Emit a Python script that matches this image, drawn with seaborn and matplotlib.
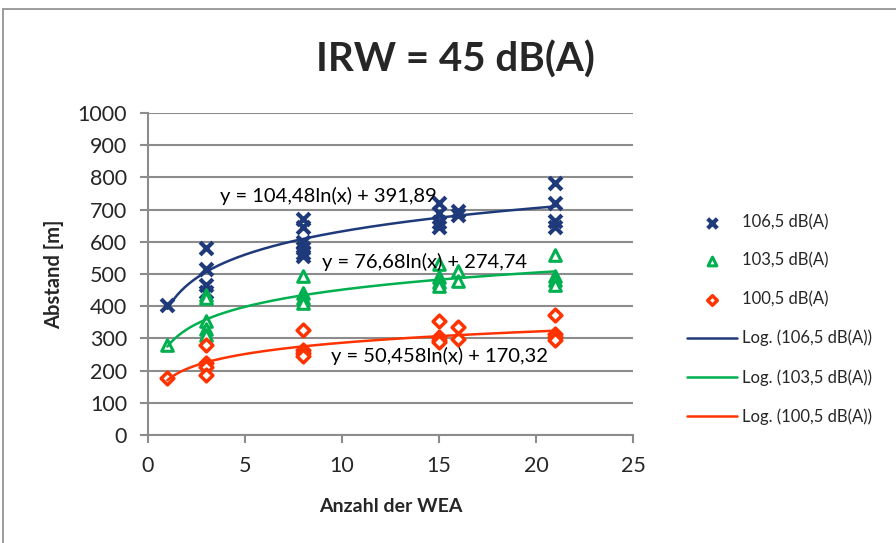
import numpy as np
import pandas as pd
import matplotlib
matplotlib.use("Agg")
import matplotlib.pyplot as plt
from matplotlib.patches import Rectangle
import seaborn as sns

# --- data ---
x_106 = [1, 3, 3, 3, 3, 8, 8, 8, 8, 8, 8, 15, 15, 15, 15, 16, 16, 21, 21, 21, 21]
y_106 = [405, 580, 515, 465, 445, 670, 645, 600, 580, 565, 555, 720, 690, 660, 645, 695, 682, 783, 720, 665, 645]

x_103 = [1, 3, 3, 3, 3, 3, 8, 8, 8, 8, 15, 15, 15, 15, 16, 16, 21, 21, 21, 21]
y_103 = [280, 435, 425, 355, 330, 310, 495, 440, 425, 410, 530, 490, 475, 462, 508, 478, 560, 495, 480, 465]

x_100 = [1, 3, 3, 3, 3, 8, 8, 8, 8, 15, 15, 15, 15, 16, 16, 21, 21, 21, 21]
y_100 = [178, 280, 225, 210, 187, 325, 265, 255, 245, 355, 305, 295, 288, 335, 298, 372, 315, 305, 295]

series_labels = ["106,5 dB(A)", "103,5 dB(A)", "100,5 dB(A)"]
trend_a = [104.48, 76.68, 50.458]
trend_b = [391.89, 274.74, 170.32]
trend_text = ["y = 104,48ln(x) + 391,89", "y = 76,68ln(x) + 274,74", "y = 50,458ln(x) + 170,32"]
text_pos = [(3.7, 741), (8.95, 538), (9.45, 245)]

colors = ["#1F3A7A", "#00B050", "#FF3300"]

sns.set_style("white")
plt.rcParams["font.family"] = ["Lato", "DejaVu Sans"]

fig = plt.figure(figsize=(8.96, 5.43), dpi=100)
ax = fig.add_axes([148 / 896, 1 - 435 / 543, 485 / 896, 322 / 543])

df106 = pd.DataFrame({"x": x_106, "y": y_106})
df103 = pd.DataFrame({"x": x_103, "y": y_103})
df100 = pd.DataFrame({"x": x_100, "y": y_100})

sns.scatterplot(data=df106, x="x", y="y", ax=ax, marker="x", s=85, linewidth=3.0,
                color=colors[0], label=series_labels[0], zorder=3)
sns.scatterplot(data=df103, x="x", y="y", ax=ax, marker="^", s=70, linewidth=2.2,
                color=colors[1], facecolor="white", edgecolor=colors[1],
                label=series_labels[1], zorder=3)
sns.scatterplot(data=df100, x="x", y="y", ax=ax, marker="D", s=42, linewidth=2.5,
                color=colors[2], facecolor="white", edgecolor=colors[2],
                label=series_labels[2], zorder=3)

# logarithmic trendlines from the equations shown in the chart
xs = np.linspace(1, 21, 200)
for a, b, c, lab in zip(trend_a, trend_b, colors, series_labels):
    sns.lineplot(x=xs, y=a * np.log(xs) + b, ax=ax, color=c, linewidth=1.8,
                 label="Log. (" + lab + ")", zorder=4)

for t, (tx, ty) in zip(trend_text, text_pos):
    ax.text(tx, ty, t, fontsize=14.5, ha="left", va="center", color="black", zorder=5)

ax.set_xlim(0, 25)
ax.set_ylim(0, 1000)
ax.set_xticks(range(0, 26, 5))
ax.set_yticks(range(0, 1001, 100))
ax.grid(axis="y", color="#8C8C8C", linewidth=1.5)
ax.grid(axis="x", visible=False)
for s in ["top", "right"]:
    ax.spines[s].set_visible(False)
for s in ["left", "bottom"]:
    ax.spines[s].set_color("#8C8C8C")
    ax.spines[s].set_linewidth(1.5)
ax.tick_params(axis="both", which="major", labelsize=15.5, length=6, width=1.5,
               color="#8C8C8C", direction="out", pad=9, left=True, bottom=True)
ax.set_xlabel("Anzahl der WEA", fontsize=14, fontweight="bold", labelpad=16)
ax.set_ylabel("Abstand [m]", fontsize=14.5, fontweight="bold", labelpad=10)

fig.text(455 / 896, 1 - 60 / 543, "IRW = 45 dB(A)", fontsize=29, fontweight="bold",
         ha="center", va="center")

handles, labels = ax.get_legend_handles_labels()
ax.get_legend().remove()
fig.legend(handles, labels, loc="upper left", bbox_to_anchor=(687 / 896, 1 - 214 / 543),
           frameon=False, fontsize=12, labelspacing=1.35, handlelength=3.0,
           handletextpad=0.3, borderpad=0, borderaxespad=0, markerscale=0.75)

fig.patches.append(Rectangle((3 / 896, -0.1), 2, 1 - 9 / 543 + 0.1, transform=fig.transFigure,
                             fill=False, edgecolor="#8C8C8C", linewidth=1.2))

fig.savefig("out.png", dpi=100)
